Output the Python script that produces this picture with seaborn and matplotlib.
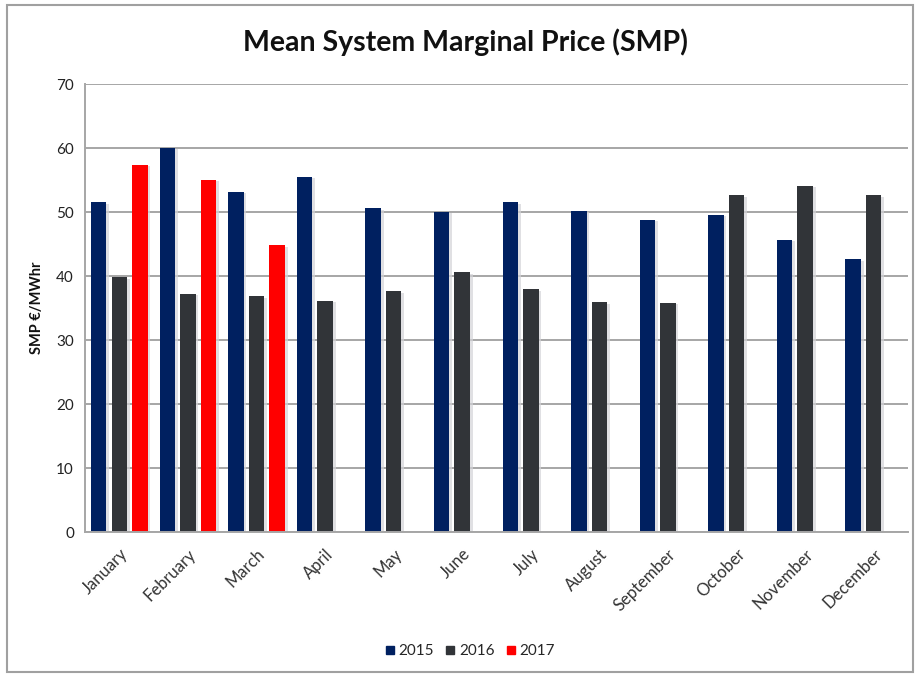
import matplotlib
matplotlib.use("Agg")
import matplotlib.pyplot as plt
import matplotlib.patheffects as pe
from matplotlib.patches import Rectangle
from matplotlib.lines import Line2D
import seaborn as sns
import pandas as pd

months = ["January", "February", "March", "April", "May", "June", "July",
          "August", "September", "October", "November", "December"]
years = ["2015", "2016", "2017"]
smp_2015 = [51.5, 60.0, 53.2, 55.5, 50.6, 50.0, 51.5, 50.2, 48.8, 49.6, 45.7, 42.6]
smp_2016 = [39.8, 37.2, 36.8, 36.1, 37.6, 40.6, 37.9, 35.9, 35.8, 52.6, 54.1, 52.6]
smp_2017 = [57.4, 55.0, 44.8]
colors = ["#002060", "#313438", "#FF0000"]
yticks = [0, 10, 20, 30, 40, 50, 60, 70]

rows = []
for yr, vals in zip(years, [smp_2015, smp_2016, smp_2017]):
    for m, v in zip(months, vals):
        rows.append({"Month": m, "Year": yr, "SMP": v})
df = pd.DataFrame(rows)

sns.set_theme(style="white")
plt.rcParams["font.family"] = ["Lato", "DejaVu Sans"]

fig = plt.figure(figsize=(9.17, 6.77), dpi=100)
ax = fig.add_axes([85 / 917, (677 - 532) / 677, (908 - 85) / 917, (532 - 84) / 677])

sns.barplot(data=df, x="Month", y="SMP", hue="Year", order=months,
            hue_order=years, palette=colors, width=0.9, gap=0.25,
            saturation=1, ax=ax, legend=False, linewidth=0)

for p in ax.patches:
    p.set_path_effects([pe.SimplePatchShadow(offset=(2, -1), shadow_rgbFace="#D4D4D8", alpha=0.7),
                        pe.Normal()])

ax.set_ylim(0, 70)
ax.set_yticks(yticks)
ax.set_yticklabels([str(t) for t in yticks], fontsize=11, color="#222222")
ax.set_xlim(-0.5, len(months) - 0.5)
ax.set_xticks(range(len(months)))
ax.set_xticklabels(months, rotation=45, ha="right", rotation_mode="anchor",
                   fontsize=12, color="#333333")
ax.tick_params(axis="both", length=0, pad=8)
ax.tick_params(axis="x", pad=10)
ax.set_xlabel("")
ax.set_ylabel("SMP €/MWhr", fontsize=10.5, fontweight="bold", color="#111111", labelpad=9)
ax.grid(axis="y", color="#A6A6A6", linewidth=1.4)
ax.set_axisbelow(True)
for s in ["top", "right"]:
    ax.spines[s].set_visible(False)
for s in ["left", "bottom"]:
    ax.spines[s].set_color("#A6A6A6")
    ax.spines[s].set_linewidth(1.4)

fig.text(0.508, 0.937, "Mean System Marginal Price (SMP)", ha="center", va="center",
         fontsize=20.5, fontweight="bold", color="#111111")

handles = [Line2D([0], [0], marker="s", linestyle="", markersize=6,
                  markerfacecolor=c, markeredgecolor=c) for c in colors]
fig.legend(handles, years, loc="center", bbox_to_anchor=(0.511, 0.038), ncol=3,
           frameon=False, fontsize=11, handletextpad=0.05, columnspacing=0.6,
           handlelength=1.0)

fig.patches.append(Rectangle((7 / 917, 5 / 677), 906 / 917, 667 / 677,
                             transform=fig.transFigure, fill=False,
                             edgecolor="#A0A0A0", linewidth=1.5, zorder=10))

fig.savefig("out.png", dpi=100, facecolor="white")
